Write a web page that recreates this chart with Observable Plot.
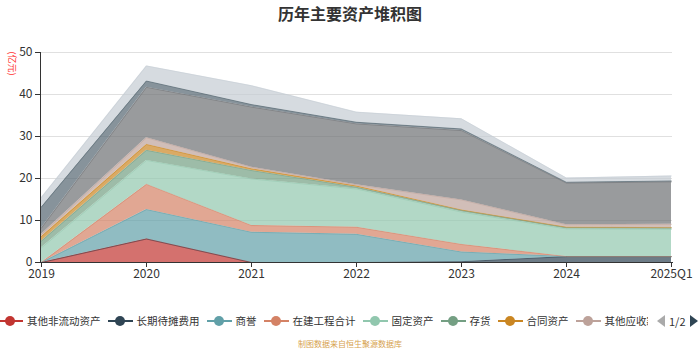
<!DOCTYPE html>
<html><head><meta charset="utf-8">
<script src="https://cdn.jsdelivr.net/npm/d3@7"></script>
<script src="https://cdn.jsdelivr.net/npm/@observablehq/plot@0.6"></script>
<style>
body{margin:0;background:#fff;font-family:"Noto Sans CJK SC","Noto Sans",sans-serif;}
#wrap{position:relative;width:700px;height:350px;overflow:hidden;background:#fff;}
#title{position:absolute;left:0;top:2px;width:700px;text-align:center;font-size:16px;font-weight:bold;color:#333;line-height:22px;}
#chart{position:absolute;left:0;top:0;}
#unit{position:absolute;left:0px;top:59px;font-size:9px;color:#ff3333;transform:rotate(90deg);transform-origin:center;white-space:nowrap;line-height:9px;}
#legend{position:absolute;left:-2px;top:313px;width:650px;height:16px;overflow:hidden;display:flex;gap:7px;white-space:nowrap;font-size:10.5px;color:#333;line-height:16px;}
.item{display:flex;align-items:center;gap:4px;flex:none;}
.icon{position:relative;width:25px;height:16px;}
.icon .ln{position:absolute;left:0;top:7px;width:25px;height:2px;}
.icon .dot{position:absolute;left:7px;top:3px;width:10px;height:10px;border-radius:50%;}
#pager{position:absolute;left:657px;top:313px;height:16px;font-size:11px;color:#333;line-height:16px;display:flex;align-items:center;gap:4px;}
.tri{width:0;height:0;border-top:6px solid transparent;border-bottom:6px solid transparent;}
#caption{position:absolute;left:0;top:338px;width:700px;text-align:center;font-size:8px;color:#d6a24e;line-height:12px;}
</style></head><body>
<div id="wrap">
  <div id="chart"></div>
  <div id="title">历年主要资产堆积图</div>
  <div id="unit">(亿元)</div>
  <div id="legend"></div>
  <div id="pager"><div class="tri" style="border-right:8px solid #aaa"></div><span>1/2</span><div class="tri" style="border-left:8px solid #2f4554"></div></div>
  <div id="caption">制图数据来自恒生聚源数据库</div>
</div>
<script>
const periods = ["2019","2020","2021","2022","2023","2024","2025Q1"];
const seriesNames = ["其他非流动资产","长期待摊费用","商誉","在建工程合计","固定资产","存货","合同资产","其他应收款","应收账款","无形资产","货币资金"];
const seriesColors = ["#c23531","#2f4554","#61a0a8","#d48265","#91c7ae","#749f83","#ca8622","#bda29a","#6e7074","#546570","#c4ccd3"];
const yTicks = [0,10,20,30,40,50];

const otherNonCurrent = [0, 5.6, 0, 0, 0, 0, 0];
const longPrepaid     = [0, 0, 0, 0, 0.2, 1.4, 1.4];
const goodwill        = [0, 7.0, 7.2, 6.7, 2.3, 0, 0];
const construction    = [0, 6.0, 1.6, 1.7, 1.8, 0, 0];
const fixedAssets     = [3.5, 5.7, 11.1, 9.1, 7.7, 6.6, 6.5];
const inventory       = [1.6, 2.4, 2.0, 0.4, 0.4, 0.3, 0.3];
const contractAssets  = [1.1, 1.4, 0.4, 0.3, 0.1, 0.1, 0.1];
const otherReceivable = [0.5, 1.6, 0.4, 0.3, 2.4, 0.6, 0.8];
const receivables     = [1.5, 12.0, 14.3, 14.5, 16.5, 9.9, 10.1];
const intangibles     = [5.0, 1.5, 0.6, 0.4, 0.4, 0.2, 0.2];
const cash            = [2.3, 3.6, 4.5, 2.4, 2.4, 1.0, 1.2];

const seriesValues = [otherNonCurrent, longPrepaid, goodwill, construction, fixedAssets, inventory, contractAssets, otherReceivable, receivables, intangibles, cash];

const data = [];
seriesNames.forEach((s, i) => periods.forEach((p, j) => data.push({series: s, period: p, value: seriesValues[i][j]})));

const chart = Plot.plot({
  width: 700, height: 290,
  marginTop: 52, marginBottom: 28, marginLeft: 40, marginRight: 28,
  style: {fontFamily: '"Noto Sans CJK SC","Noto Sans",sans-serif', fontSize: "12px", color: "#333", background: "transparent"},
  x: {type: "point", domain: periods, padding: 0},
  y: {domain: [0, 50]},
  color: {domain: seriesNames, range: seriesColors},
  marks: [
    Plot.ruleY(yTicks.slice(1), {stroke: "#e0e0e0", strokeWidth: 1}),
    Plot.areaY(data, {x: "period", y: "value", z: "series", fill: "series", fillOpacity: 0.7, order: seriesNames}),
    Plot.lineY(data, Plot.stackY2({x: "period", y: "value", z: "series", stroke: "series", strokeOpacity: 0.5, strokeWidth: 1, order: seriesNames})),
    Plot.frame({anchor: "left", stroke: "#333"}),
    Plot.frame({anchor: "bottom", stroke: "#333"}),
    Plot.axisY({ticks: yTicks, tickSize: 5, tickPadding: 3, label: null, fill: "#333", stroke: "#333"}),
    Plot.axisX({tickSize: 5, tickPadding: 2, label: null, fill: "#333", stroke: "#333"})
  ]
});
document.getElementById("chart").appendChild(chart);

const legend = document.getElementById("legend");
seriesNames.slice(0, 8).forEach((s, i) => {
  const it = document.createElement("div");
  it.className = "item";
  it.innerHTML = `<div class="icon"><div class="ln" style="background:${seriesColors[i]}"></div><div class="dot" style="background:${seriesColors[i]}"></div></div><span>${s}</span>`;
  legend.appendChild(it);
});
</script>
</body></html>
